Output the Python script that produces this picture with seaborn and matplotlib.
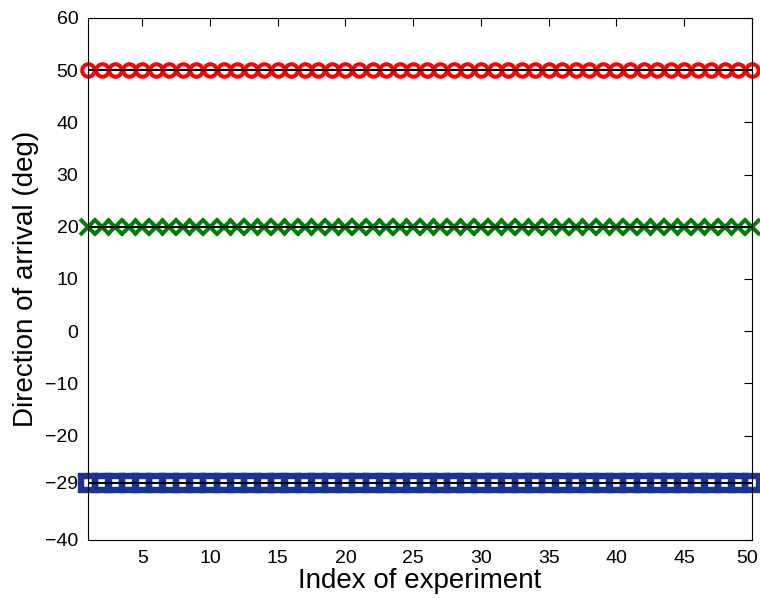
import numpy as np
import pandas as pd
import matplotlib
matplotlib.use("Agg")
import matplotlib.pyplot as plt
import matplotlib.transforms as mtransforms
import seaborn as sns

experiments = list(range(1, 51))
true_doa = [50, 20, -29]
est_red = [50] * 50
est_green = [20] * 50
est_blue = [-29] * 50
yticks = [-40, -29, -20, -10, 0, 10, 20, 30, 40, 50, 60]
xticks = [5, 10, 15, 20, 25, 30, 35, 40, 45, 50]

sns.set_style("white")
plt.rcParams['font.family'] = ['Liberation Sans', 'DejaVu Sans']
plt.rcParams['text.color'] = 'black'
plt.rcParams['axes.labelcolor'] = 'black'

fig = plt.figure(figsize=(7.6, 5.99), dpi=100)
ax = fig.add_axes([88/760, 1 - 540/599, (752-88)/760, (540-18)/599])

df = pd.DataFrame({"x": experiments, "red": est_red, "green": est_green, "blue": est_blue})

red = "#ff0000"
green = "#008000"
blue = "#1c3394"

sns.lineplot(data=df, x="x", y="red", ax=ax, color=red, marker="o", linestyle="none",
             markersize=9, markerfacecolor="none", markeredgewidth=2.9, markeredgecolor=red,
             zorder=2, clip_on=False)
sns.lineplot(data=df, x="x", y="green", ax=ax, color=green, marker="x", linestyle="none",
             markersize=11, markeredgewidth=2.9, markeredgecolor=green, zorder=2, clip_on=False)
sns.lineplot(data=df, x="x", y="blue", ax=ax, color=blue, marker="s", linestyle="none",
             markersize=10.5, markerfacecolor="none", markeredgewidth=4.6, markeredgecolor=blue,
             zorder=2, clip_on=False)

for v in true_doa:
    line_df = pd.DataFrame({"x": [experiments[0], experiments[-1]], "y": [v, v]})
    sns.lineplot(data=line_df, x="x", y="y", ax=ax, color="black", linewidth=1.5, zorder=3)

ax.set_xlim(1, 50)
ax.set_ylim(-40, 60)
ax.set_xticks(xticks)
ax.set_yticks(yticks)
ax.set_yticklabels([str(t).replace('-', '\u2212') for t in yticks])
ax.tick_params(direction="in", length=6, width=0.8, top=True, right=True, labelsize=14,
               pad=7, colors="black")
for s in ax.spines.values():
    s.set_visible(True)
    s.set_color("black")
    s.set_linewidth(0.8)
    s.set_zorder(5)
ax.set_xlabel("Index of experiment", fontsize=20, labelpad=1)
ax.set_ylabel("Direction of arrival (deg)", fontsize=20, labelpad=4)

# nudge the last x tick label slightly left so it stays inside the canvas
last = ax.xaxis.get_major_ticks()[-1].label1
last.set_transform(last.get_transform() + mtransforms.ScaledTranslation(-5/100, 0, fig.dpi_scale_trans))

fig.savefig("out.png", dpi=100)
